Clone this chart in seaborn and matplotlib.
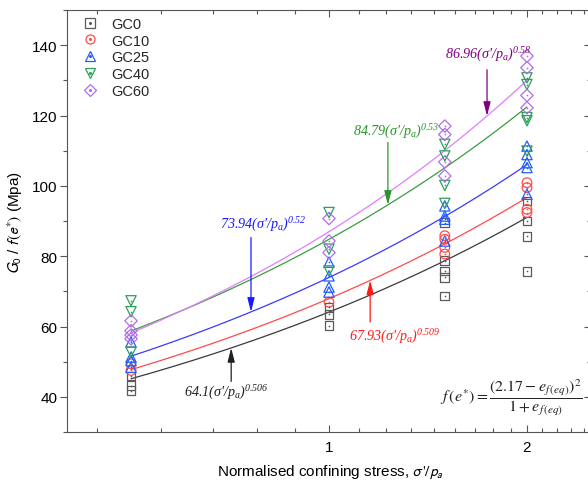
import numpy as np
import pandas as pd
import matplotlib
matplotlib.use("Agg")
import matplotlib.pyplot as plt
import seaborn as sns
from matplotlib.lines import Line2D
from matplotlib.legend_handler import HandlerTuple
from matplotlib.ticker import FixedLocator, NullFormatter, FixedFormatter, MultipleLocator

# ---------------- data ----------------
series = ["GC0", "GC10", "GC25", "GC40", "GC60"]

gc0_x = [0.5, 0.5, 0.5, 1, 1, 1, 1.5, 1.5, 1.5, 1.5, 1.5, 2, 2, 2, 2]
gc0_y = [45.9, 43.2, 41.8, 65.5, 63.5, 60.2, 89.5, 78.7, 75.8, 74.0, 68.7, 95.7, 90.0, 85.6, 75.7]

gc10_x = [0.5, 0.5, 1, 1.5, 1.5, 1.5, 1.5, 2, 2, 2, 2]
gc10_y = [49.4, 47.5, 66.9, 85.8, 84.8, 82.5, 80.6, 100.9, 99.5, 93.3, 92.4]

gc25_x = [0.5, 0.5, 0.5, 0.5, 1, 1, 1, 1, 1.5, 1.5, 1.5, 1.5, 2, 2, 2, 2, 2]
gc25_y = [55.6, 51.3, 50.3, 48.4, 78.3, 74.4, 71.2, 69.8, 94.3, 91.4, 90.5, 84.3,
          111.3, 108.9, 106.6, 105.2, 97.6]

gc40_x = [0.5, 0.5, 0.5, 1, 1, 1, 1.5, 1.5, 1.5, 1.5, 2, 2, 2, 2, 2]
gc40_y = [67.3, 64.2, 52.7, 92.4, 82.0, 75.8, 111.8, 108.5, 100.1, 95.0,
          130.7, 128.8, 119.4, 118.5, 109.9]

gc60_x = [0.5, 0.5, 0.5, 0.5, 1, 1, 1, 1.5, 1.5, 1.5, 1.5, 2, 2, 2, 2]
gc60_y = [61.6, 58.8, 57.6, 56.5, 90.7, 84.3, 81.0, 117.0, 114.6, 106.8, 102.8,
          136.9, 133.6, 125.7, 122.2]

# power-law fits shown in the chart: A * (sigma'/pa)^n
fit_coef = [64.1, 67.93, 73.94, 84.79, 86.96]
fit_expo = [0.506, 0.509, 0.52, 0.53, 0.58]
fit_labels = ["64.1", "67.93", "73.94", "84.79", "86.96"]
fit_expo_labels = ["0.506", "0.509", "0.52", "0.53", "0.58"]

xticks_major = [1, 2]
xtick_labels = ["1", "2"]
yticks_major = [40, 60, 80, 100, 120, 140]

# ---------------- style ----------------
sns.set_theme(style="white")
plt.rcParams["font.family"] = ["Liberation Sans", "DejaVu Sans"]
plt.rcParams["mathtext.fontset"] = "custom"
plt.rcParams["mathtext.rm"] = "Liberation Serif:italic"
plt.rcParams["mathtext.it"] = "Liberation Serif:italic"
plt.rcParams["mathtext.bf"] = "Liberation Serif:bold:italic"

marker_cols = ["#5a5a5a", "#ff4a4a", "#1f5fff", "#2ca05a", "#b06ee6"]
line_cols = ["#3a3a3a", "#ff4a4a", "#3a3aff", "#3c9c3c", "#e27cff"]
text_cols = ["#202020", "#ff1a1a", "#1a1aff", "#2a962a", "#800080"]
markers = ["s", "o", "^", "v", "D"]
msizes = [40, 48, 55, 55, 40]

fig = plt.figure(figsize=(5.88, 4.89), dpi=100)
W, H = 588, 489
x0, x1, ytop, ybot = 67.3, 590.7, 11, 433
ax = fig.add_axes([x0 / W, 1 - ybot / H, (x1 - x0) / W, (ybot - ytop) / H])

xs_all = [gc0_x, gc10_x, gc25_x, gc40_x, gc60_x]
ys_all = [gc0_y, gc10_y, gc25_y, gc40_y, gc60_y]

# fitted curves
xfit = np.geomspace(0.5, 2.0, 200)
for A, n, col in zip(fit_coef, fit_expo, line_cols):
    sns.lineplot(x=xfit, y=A * xfit ** n, color=col, linewidth=0.9, ax=ax, zorder=2)

# markers
for name, xs, ys, col, mk, ms in zip(series, xs_all, ys_all, marker_cols, markers, msizes):
    d = pd.DataFrame({"x": xs, "y": ys})
    sns.scatterplot(data=d, x="x", y="y", marker=mk, s=ms, facecolor="none",
                    edgecolor=col, linewidth=0.9, ax=ax, legend=False, zorder=3)
    sns.scatterplot(data=d, x="x", y="y", marker="o", s=1.5, color=col,
                    linewidth=0, ax=ax, legend=False, zorder=4)

ax.set_xscale("log", base=2)
ax.set_xlim(0.4, 2.5)
ax.set_ylim(30, 150)

ax.xaxis.set_major_locator(FixedLocator(xticks_major))
ax.xaxis.set_major_formatter(FixedFormatter(xtick_labels))
ax.xaxis.set_minor_locator(FixedLocator([k / 9 for k in range(4, 23) if k not in (9, 18)]))
ax.xaxis.set_minor_formatter(NullFormatter())
ax.yaxis.set_major_locator(FixedLocator(yticks_major))
ax.yaxis.set_minor_locator(MultipleLocator(10))

spine_col = "#555555"
for s in ax.spines.values():
    s.set_color(spine_col)
    s.set_linewidth(0.8)

ax.tick_params(axis="x", which="both", direction="in", top=True, bottom=True,
               color=spine_col, labelsize=11, labelcolor="black", pad=6)
ax.tick_params(axis="x", which="major", length=5, width=0.8)
ax.tick_params(axis="x", which="minor", length=3, width=0.8)
ax.tick_params(axis="y", which="both", direction="out", left=True, right=False,
               color=spine_col, labelsize=11, labelcolor="black", pad=2)
ax.tick_params(axis="y", which="major", length=5, width=0.8)
ax.tick_params(axis="y", which="minor", length=3, width=0.8)

sec = ax.secondary_yaxis("right")
sec.yaxis.set_major_locator(FixedLocator(yticks_major))
sec.yaxis.set_minor_locator(MultipleLocator(10))
sec.tick_params(which="both", direction="in", labelright=False, color=spine_col)
sec.tick_params(which="major", length=5, width=0.8)
sec.tick_params(which="minor", length=3, width=0.8)
sec.spines["right"].set_color(spine_col)
sec.spines["right"].set_linewidth(0.8)

ax.set_xlabel(r"Normalised confining stress, $\sigma\text{'}/p_a$", fontsize=11,
              color="black", math_fontfamily="stixsans")
ax.set_ylabel(r"$G_0$ / $f(e^{*})$ (Mpa)", fontsize=11, color="black",
              math_fontfamily="stixsans")
ax.xaxis.set_label_coords(0.502, -0.073)
ax.yaxis.set_label_coords(-0.08, 0.5)

# annotations: (text x, text y, arrow x, arrow tail y)
ann = [
    (0.602, 41.3, 0.710, 44.4),
    (1.072, 57.2, 1.155, 61.3),
    (0.683, 89.3, 0.761, 85.3),
    (1.088, 115.7, 1.229, 112.3),
    (1.50, 137.5, 1.739, 133.0),
]
for (tx, ty, axx, tail), A, n, lab, el, col in zip(ann, fit_coef, fit_expo, fit_labels,
                                                   fit_expo_labels, text_cols):
    tip = A * axx ** n
    ax.annotate("", xy=(axx, tip), xytext=(axx, tail),
                arrowprops=dict(arrowstyle="-|>,head_length=0.7,head_width=0.18",
                                color=col, lw=0.9, shrinkA=0, shrinkB=0), zorder=5)
    ax.text(tx, ty, r"$" + lab + r"(\sigma\text{'}/p_a)^{" + el + r"}$",
            fontsize=10.2, color=col, ha="left", va="center", zorder=6)

ax.text(2.425, 40.2,
        r"$f\,(e^{*})=\dfrac{\left(2.17-e_{f\,(eq)}\right)^{2}}{1+e_{f\,(eq)}}$",
        math_fontfamily="stix", fontsize=11.5, color="#222222", ha="right", va="center")

# legend
handles = []
for col, mk in zip(marker_cols, markers):
    h1 = Line2D([], [], marker=mk, linestyle="none", markersize=6.5, markerfacecolor="none",
                markeredgecolor=col, markeredgewidth=0.9)
    h2 = Line2D([], [], marker="o", linestyle="none", markersize=1.2, color=col)
    handles.append((h1, h2))
leg = ax.legend(handles, series, handler_map={tuple: HandlerTuple(ndivide=1, pad=0)},
                loc="upper left", bbox_to_anchor=(0.008, 1.005), frameon=False,
                fontsize=10.5, handlelength=1.4, handletextpad=0.7, labelspacing=0.2,
                borderaxespad=0.2)

fig.savefig("out.png", dpi=100)
